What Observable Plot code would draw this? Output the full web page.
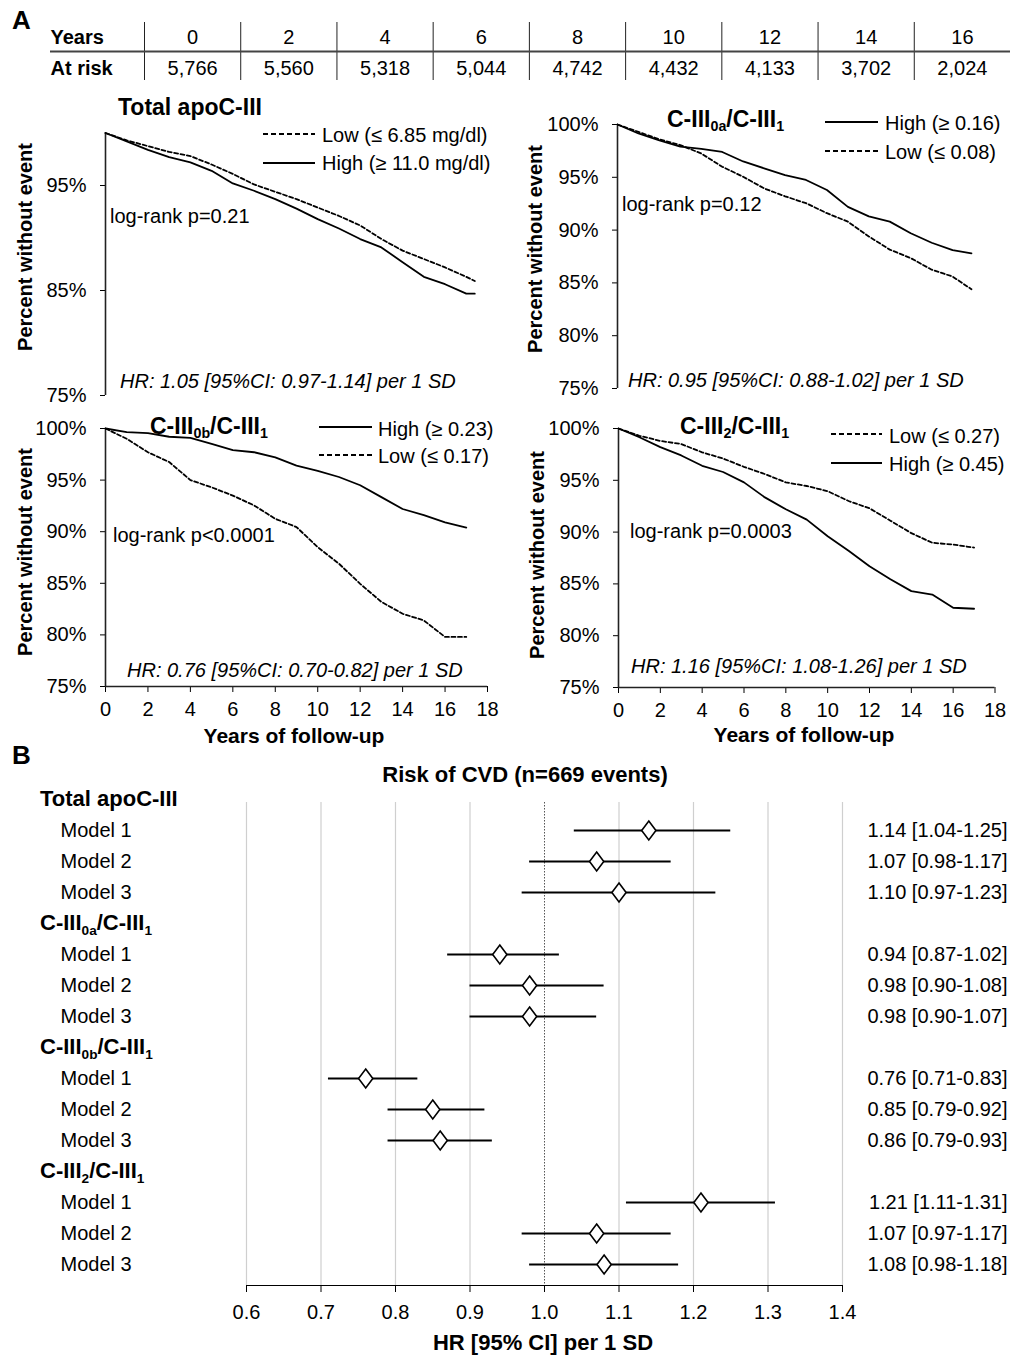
<!DOCTYPE html>
<html><head><meta charset="utf-8">
<script src="https://cdn.jsdelivr.net/npm/d3@7"></script>
<script src="https://cdn.jsdelivr.net/npm/@observablehq/plot@0.6"></script>
<style>
body{margin:0;background:#fff;}
#root{position:relative;width:1013px;height:1355px;overflow:hidden;font-family:"Liberation Sans",Arial,Helvetica,sans-serif;color:#000;background:#fff;}
.abs{position:absolute;}
.t{position:absolute;line-height:1;white-space:nowrap;}
.sub{font-size:0.62em;position:relative;top:0.32em;}
</style></head><body><div id="root"></div>
<script>
// ---------- DATA ----------
const tableRows = ["Years", "At risk"];
const riskYears = [0, 2, 4, 6, 8, 10, 12, 14, 16];
const atRisk = [5766, 5560, 5318, 5044, 4742, 4432, 4133, 3702, 2024];

const kmXTicks = [0, 2, 4, 6, 8, 10, 12, 14, 16, 18];

// Total apoC-III
const timeTotal = [0,1,2,3,4,5,6,7,8,9,10,11,12,13,14,15,16,17,17.4];
const totalLow  = [100,99.3,98.75,98.2,97.8,97.0,96.1,95.1,94.4,93.7,92.9,92.1,91.2,89.9,88.8,88.0,87.2,86.3,85.9];
const totalHigh = [100,99.2,98.4,97.7,97.2,96.4,95.2,94.5,93.7,92.8,91.8,90.9,89.9,89.1,87.7,86.3,85.6,84.7,84.7];
// C-III0a/C-III1
const time0a = [0,1,2,3,4,5,6,7,8,9,10,11,12,13,14,15,16,16.9];
const c0aHigh = [100,99.15,98.5,97.9,97.7,97.4,96.5,95.85,95.2,94.75,93.8,92.2,91.3,90.8,89.7,88.8,88.1,87.8];
const c0aLow  = [100,99.3,98.6,98.05,97.25,96.0,95.05,93.95,93.2,92.55,91.6,90.8,89.4,88.15,87.35,86.25,85.6,84.4];
// C-III0b/C-III1
const time0b = [0,1,2,3,4,5,6,7,8,9,10,11,12,13,14,15,16,17];
const c0bHigh = [100,99.65,99.55,99.2,99.1,98.5,97.9,97.7,97.2,96.4,95.9,95.3,94.5,93.35,92.2,91.6,90.9,90.4];
const c0bLow  = [100,99.0,97.7,96.75,95.0,94.3,93.5,92.55,91.25,90.45,88.5,86.9,84.95,83.2,82.05,81.4,79.8,79.8];
// C-III2/C-III1
const time2 = [0,1,2,3,4,5,6,7,8,9,10,11,12,13,14,15,16,17];
const c2Low  = [100,99.3,98.8,98.5,97.7,97.1,96.3,95.6,94.8,94.45,93.95,93.0,92.3,91.1,89.9,88.97,88.8,88.5];
const c2High = [100,99.16,98.2,97.4,96.4,95.8,94.8,93.35,92.2,91.2,89.6,88.2,86.7,85.45,84.3,83.97,82.7,82.6];

// Forest plot
const groups = ["Total apoC-III", "C-III0a/C-III1", "C-III0b/C-III1", "C-III2/C-III1"];
const groupLabels = ["Total apoC-III",
  "C-III<span class=sub>0a</span>/C-III<span class=sub>1</span>",
  "C-III<span class=sub>0b</span>/C-III<span class=sub>1</span>",
  "C-III<span class=sub>2</span>/C-III<span class=sub>1</span>"];
const models = ["Model 1", "Model 2", "Model 3"];
const hrEst  = [1.14,1.07,1.10, 0.94,0.98,0.98, 0.76,0.85,0.86, 1.21,1.07,1.08];
const hrLow  = [1.04,0.98,0.97, 0.87,0.90,0.90, 0.71,0.79,0.79, 1.11,0.97,0.98];
const hrHigh = [1.25,1.17,1.23, 1.02,1.08,1.07, 0.83,0.92,0.93, 1.31,1.17,1.18];
const hrTicks = [0.6,0.7,0.8,0.9,1.0,1.1,1.2,1.3,1.4];

// ---------- HELPERS ----------
const root = document.getElementById("root");
const FONT = '"Liberation Sans", Arial, Helvetica, sans-serif';
const baseStyle = {fontFamily: FONT, fontSize: "20px", color: "#000", background: "transparent", overflow: "visible"};

function addPlot(svg, left, top, width) {
  const w = document.createElement("div");
  w.className = "abs"; w.style.left = left + "px"; w.style.top = top + "px"; w.style.width = width + "px";
  w.appendChild(svg); root.appendChild(w); return svg;
}
function txt(html, x, baseline, o = {}) {
  const size = o.size || 20;
  const d = document.createElement("div");
  d.className = "t"; d.innerHTML = html;
  d.style.fontSize = size + "px";
  d.style.fontWeight = o.bold ? "bold" : "normal";
  d.style.fontStyle = o.italic ? "italic" : "normal";
  d.style.left = x + "px"; d.style.top = (baseline - 0.8465 * size) + "px";
  if (o.anchor === "middle") d.style.transform = "translateX(-50%)";
  if (o.anchor === "end") d.style.transform = "translateX(-100%)";
  root.appendChild(d); return d;
}
function vtxt(html, cx, cy, size, bold) {
  const d = document.createElement("div");
  d.className = "t"; d.innerHTML = html;
  d.style.fontSize = size + "px"; d.style.fontWeight = bold ? "bold" : "normal";
  d.style.left = cx + "px"; d.style.top = cy + "px";
  d.style.transform = "translate(-50%,-50%) rotate(-90deg)";
  root.appendChild(d);
}
function legLine(x1, x2, y, dashed) {
  const ns = "http://www.w3.org/2000/svg";
  const s = document.createElementNS(ns, "svg");
  s.setAttribute("width", x2 - x1); s.setAttribute("height", 6);
  s.style.position = "absolute"; s.style.left = x1 + "px"; s.style.top = (y - 3) + "px";
  const l = document.createElementNS(ns, "line");
  l.setAttribute("x1", 0); l.setAttribute("x2", x2 - x1); l.setAttribute("y1", 3); l.setAttribute("y2", 3);
  l.setAttribute("stroke", "#000"); l.setAttribute("stroke-width", 2);
  if (dashed) l.setAttribute("stroke-dasharray", "5,3");
  s.appendChild(l); root.appendChild(s);
}

// ---------- PANEL LETTERS ----------
txt("A", 12, 29, {size: 26, bold: true});
txt("B", 12, 764, {size: 26, bold: true});

// ---------- AT-RISK TABLE ----------
addPlot(Plot.plot({
  width: 1013, height: 90, marginTop: 22, marginBottom: 10, marginLeft: 50, marginRight: 3,
  x: {domain: [-1, 17], range: [144, 1010], axis: null},
  y: {type: "point", domain: tableRows, range: [43, 74], padding: 0, axis: null},
  style: baseStyle,
  marks: [
    Plot.ruleX(riskYears, {x: d => d - 1, stroke: "#222", strokeWidth: 1}),
    Plot.ruleY([tableRows[1]], {y: d => d, dy: -23, stroke: "#444", strokeWidth: 2}),
    Plot.text(riskYears, {x: d => d, y: () => tableRows[0], text: d => String(d), lineAnchor: "bottom", fontSize: 20}),
    Plot.text(atRisk, {x: (d, i) => riskYears[i], y: () => tableRows[1], text: d => d3.format(",")(d), lineAnchor: "bottom", fontSize: 20}),
    Plot.text(tableRows, {y: d => d, text: d => d, frameAnchor: "left", textAnchor: "start", lineAnchor: "bottom", fontSize: 20, fontWeight: "bold"})
  ]
}), 0, 0, 1013);

// ---------- KAPLAN-MEIER PANELS ----------
function kmPlot(p) {
  const mk = (vals, dashed) => Plot.line(p.time.map((t, i) => ({t, s: vals[i]})),
    {x: "t", y: "s", stroke: "#000", strokeWidth: 1.8, strokeDasharray: dashed ? "4,2.5" : null});
  const marks = [Plot.ruleX([0], {stroke: "#222", strokeWidth: 1.6})];
  if (p.xAxis) marks.push(Plot.ruleY([75], {stroke: "#222", strokeWidth: 1.6}));
  marks.push(mk(p.low, true), mk(p.high, false));
  return Plot.plot({
    width: p.width, height: p.height,
    marginTop: p.mt, marginBottom: p.mb, marginLeft: p.ml, marginRight: p.mr,
    x: p.xAxis ? {domain: [0, 18], ticks: kmXTicks, tickSize: 6, tickPadding: 9, label: null}
               : {domain: [0, 18], axis: null},
    y: {domain: [75, 100], ticks: p.yTicks, tickFormat: d => d + "%", tickSize: 5, tickPadding: 14, label: null},
    style: baseStyle,
    marks
  });
}
const panels = [
  {left: 0, top: 90, width: 500, height: 320, mt: 42.5, mb: 15, ml: 105, mr: 13, yTicks: [75, 85, 95], xAxis: false,
   time: timeTotal, low: totalLow, high: totalHigh},
  {left: 512, top: 90, width: 500, height: 320, mt: 34, mb: 22, ml: 105, mr: 18, yTicks: [75, 80, 85, 90, 95, 100], xAxis: false,
   time: time0a, low: c0aLow, high: c0aHigh},
  {left: 0, top: 400, width: 500, height: 330, mt: 28, mb: 44, ml: 105, mr: 13, yTicks: [75, 80, 85, 90, 95, 100], xAxis: true,
   time: time0b, low: c0bLow, high: c0bHigh},
  {left: 512, top: 400, width: 500, height: 330, mt: 28, mb: 43, ml: 106, mr: 17.5, yTicks: [75, 80, 85, 90, 95, 100], xAxis: true,
   time: time2, low: c2Low, high: c2High}
];
panels.forEach(p => addPlot(kmPlot(p), p.left, p.top, p.width));

// annotations of panel A
vtxt("Percent without event", 25, 247, 20, true);
vtxt("Percent without event", 535, 249, 20, true);
vtxt("Percent without event", 25, 552, 20, true);
vtxt("Percent without event", 537, 555, 20, true);

txt(groupLabels[0], 118, 115, {size: 23, bold: true});
txt(groupLabels[1], 667, 127, {size: 23, bold: true});
txt(groupLabels[2], 150, 434, {size: 23, bold: true});
txt(groupLabels[3], 680, 434, {size: 23, bold: true});

legLine(263, 315, 134, true);  txt("Low (≤ 6.85 mg/dl)", 322, 142);
legLine(263, 315, 163, false); txt("High (≥ 11.0 mg/dl)", 322, 170);
legLine(825, 878, 122, false); txt("High (≥ 0.16)", 885, 130);
legLine(825, 878, 151, true);  txt("Low (≤ 0.08)", 885, 159);
legLine(319, 372, 427, false); txt("High (≥ 0.23)", 378, 436);
legLine(319, 372, 455, true);  txt("Low (≤ 0.17)", 378, 463);
legLine(831, 882, 434, true);  txt("Low (≤ 0.27)", 889, 443);
legLine(831, 882, 463, false); txt("High (≥ 0.45)", 889, 471);

txt("log-rank p=0.21", 110, 223);
txt("log-rank p=0.12", 622, 211);
txt("log-rank p&lt;0.0001", 113, 542);
txt("log-rank p=0.0003", 630, 538);

txt("HR: 1.05 [95%CI: 0.97-1.14] per 1 SD", 120, 388, {italic: true});
txt("HR: 0.95 [95%CI: 0.88-1.02] per 1 SD", 628, 387, {italic: true});
txt("HR: 0.76 [95%CI: 0.70-0.82] per 1 SD", 127, 677, {italic: true});
txt("HR: 1.16 [95%CI: 1.08-1.26] per 1 SD", 631, 673, {italic: true});

txt("Years of follow-up", 294, 743, {size: 21, bold: true, anchor: "middle"});
txt("Years of follow-up", 804, 742, {size: 21, bold: true, anchor: "middle"});

// ---------- FOREST PLOT ----------
const rows = groups.flatMap((g, gi) => models.map((m, mi) => ({
  key: g + "|" + m, m, est: hrEst[gi * 3 + mi], lo: hrLow[gi * 3 + mi], hi: hrHigh[gi * 3 + mi]
})));
const rowKeys = groups.flatMap(g => [g + "|", ...models.map(m => g + "|" + m)]);
const f2 = d3.format(".2f");
const tallDiamond = {draw(ctx, size) {
  const r = Math.sqrt(size / Math.PI), w = r * 0.75;
  ctx.moveTo(0, -r); ctx.lineTo(w, 0); ctx.lineTo(0, r); ctx.lineTo(-w, 0); ctx.closePath();
}};
const forestTop = 750;
const forest = addPlot(Plot.plot({
  width: 1013, height: 605, marginTop: 52, marginBottom: 70, marginLeft: 246, marginRight: 171,
  x: {domain: [0.6, 1.4], ticks: hrTicks, tickFormat: d3.format(".1f"), tickSize: 7, tickPadding: 12, line: true, label: null},
  y: {type: "point", domain: rowKeys, range: [44, 519], padding: 0, axis: null},
  style: baseStyle,
  marks: [
    Plot.ruleX(hrTicks.filter(d => d !== 1), {stroke: "#cfcfcf", strokeWidth: 1.2}),
    Plot.ruleX([1], {stroke: "#555", strokeWidth: 1, strokeDasharray: "1.5,1.5"}),
    Plot.ruleY(rows, {y: "key", x1: "lo", x2: "hi", stroke: "#000", strokeWidth: 2}),
    Plot.dot(rows, {y: "key", x: "est", symbol: tallDiamond, r: 9.5, fill: "#fff", stroke: "#000", strokeWidth: 1.6}),
    Plot.text(rows, {y: "key", text: "m", frameAnchor: "left", dx: -186, textAnchor: "start", fontSize: 20}),
    Plot.text(rows, {y: "key", text: d => `${f2(d.est)} [${f2(d.lo)}-${f2(d.hi)}]`, frameAnchor: "right", dx: 165, textAnchor: "end", fontSize: 20})
  ]
}), 0, forestTop, 1013);

const yScale = forest.scale("y");
groups.forEach((g, i) => {
  const yc = forestTop + yScale.apply(g + "|");
  txt(groupLabels[i], 40, yc + 0.36 * 22, {size: 22, bold: true});
});
txt("Risk of CVD (n=669 events)", 525, 783, {size: 22, bold: true, anchor: "middle"});
txt("HR [95% CI] per 1 SD", 543, 1351, {size: 22, bold: true, anchor: "middle"});
</script>
</body></html>
